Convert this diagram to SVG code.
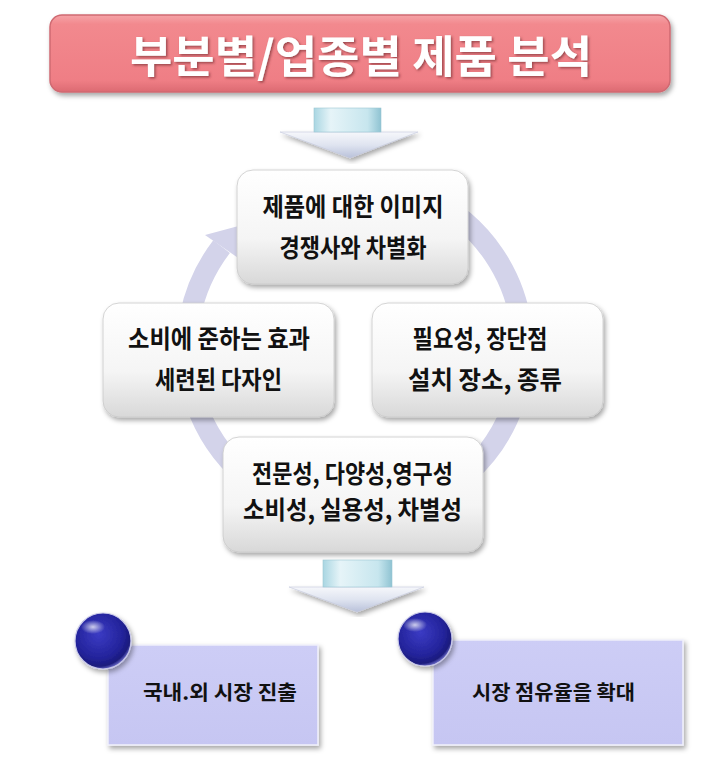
<svg xmlns="http://www.w3.org/2000/svg" width="718" height="779" viewBox="0 0 718 779">
<defs>
  <linearGradient id="gTitle" x1="0" y1="0" x2="0" y2="1">
    <stop offset="0" stop-color="#f5a3a7"/>
    <stop offset="0.12" stop-color="#f2898e"/>
    <stop offset="0.85" stop-color="#ef7e85"/>
    <stop offset="1" stop-color="#dc6a72"/>
  </linearGradient>
  <linearGradient id="gBox" x1="0" y1="0" x2="0" y2="1">
    <stop offset="0" stop-color="#ffffff"/>
    <stop offset="0.6" stop-color="#f5f5f5"/>
    <stop offset="1" stop-color="#d8d8d8"/>
  </linearGradient>
  <linearGradient id="gStem" x1="0" y1="0" x2="1" y2="0">
    <stop offset="0" stop-color="#a9d6e2"/>
    <stop offset="0.25" stop-color="#e6f4f8"/>
    <stop offset="0.8" stop-color="#c7e6ee"/>
    <stop offset="1" stop-color="#8fc3d2"/>
  </linearGradient>
  <linearGradient id="gHead" x1="0" y1="0" x2="0" y2="1">
    <stop offset="0" stop-color="#f6f7fb"/>
    <stop offset="0.5" stop-color="#dfe4f0"/>
    <stop offset="1" stop-color="#b9c1da"/>
  </linearGradient>
  <linearGradient id="gRes" x1="0" y1="0" x2="0" y2="1">
    <stop offset="0" stop-color="#cdcdf6"/>
    <stop offset="1" stop-color="#c6c6f2"/>
  </linearGradient>
  <radialGradient id="gBall" cx="0.42" cy="0.38" r="0.62">
    <stop offset="0" stop-color="#3b3bc4"/>
    <stop offset="0.7" stop-color="#23239a"/>
    <stop offset="0.92" stop-color="#1a1a7c"/>
    <stop offset="1" stop-color="#5a5ab8"/>
  </radialGradient>
  <radialGradient id="gGloss" cx="0.5" cy="0.5" r="0.5">
    <stop offset="0" stop-color="#ffffff" stop-opacity="0.75"/>
    <stop offset="1" stop-color="#ffffff" stop-opacity="0"/>
  </radialGradient>
  <filter id="shadow" x="-10%" y="-10%" width="125%" height="130%">
    <feDropShadow dx="2" dy="3" stdDeviation="2.5" flood-color="#000" flood-opacity="0.35"/>
  </filter>
  <filter id="tshadow" x="-5%" y="-20%" width="110%" height="140%">
    <feDropShadow dx="1.5" dy="1.5" stdDeviation="1" flood-color="#7a2f35" flood-opacity="0.7"/>
  </filter>
</defs>
<style>
  .box { fill: url(#gBox); stroke: #c9c9c9; stroke-width: 0.8; filter: url(#shadow); }
  .txt { font-family: "Noto Sans CJK KR", "Noto Sans", sans-serif; font-weight: bold; fill: #111; text-anchor: middle; font-size: 25px; }
  .rtxt { font-family: "Noto Sans CJK KR", "Noto Sans", sans-serif; font-weight: bold; fill: #111; text-anchor: middle; font-size: 20px; }
  .res { fill: url(#gRes); stroke: #f0f0fa; stroke-width: 1.5; filter: url(#shadow); }
  .stem { fill: url(#gStem); stroke: #9cc6d2; stroke-width: 0.6; }
  .head { fill: url(#gHead); stroke: #c2c8dc; stroke-width: 0.6; filter: url(#shadow); }
  .ring { fill: none; stroke: #d3d3ea; stroke-width: 21; }
</style>

<g id="title">
  <rect x="50" y="15" width="620" height="77" rx="12" fill="url(#gTitle)" stroke="#cf6a72" stroke-width="1.5" filter="url(#shadow)"/>
  <text x="361" y="73" font-family="'Noto Sans CJK KR', sans-serif" font-weight="bold" font-size="44" fill="#ffffff" text-anchor="middle" textLength="462" lengthAdjust="spacingAndGlyphs" filter="url(#tshadow)">부분별/업종별 제품 분석</text>
</g>

<g id="arrow1">
  <polygon class="head" points="280,132 418,132 350,158"/>
  <rect class="stem" x="314" y="108" width="67" height="24"/>
</g>

<g id="connectors">
  <path class="ring" d="M 269 204.5 A 168 168 0 1 1 221.6 246.6"/>
  <polygon fill="#d3d3ea" points="205,235 244,262 246,224"/>
</g>

<g id="node-top">
  <rect class="box" x="237" y="170" width="231" height="114" rx="16"/>
  <text class="txt" x="353" y="216" textLength="181" lengthAdjust="spacingAndGlyphs">제품에 대한 이미지</text>
  <text class="txt" x="353" y="257" textLength="147" lengthAdjust="spacingAndGlyphs">경쟁사와 차별화</text>
</g>

<g id="node-left">
  <rect class="box" x="103" y="303" width="231" height="114" rx="16"/>
  <text class="txt" x="219" y="348" textLength="182" lengthAdjust="spacingAndGlyphs">소비에 준하는 효과</text>
  <text class="txt" x="218.5" y="389" textLength="127" lengthAdjust="spacingAndGlyphs">세련된 다자인</text>
</g>

<g id="node-right">
  <rect class="box" x="372" y="303" width="231" height="114" rx="16"/>
  <text class="txt" x="480" y="348" textLength="135" lengthAdjust="spacingAndGlyphs">필요성, 장단점</text>
  <text class="txt" x="485" y="389" textLength="154" lengthAdjust="spacingAndGlyphs">설치 장소, 종류</text>
</g>

<g id="node-bottom">
  <rect class="box" x="223" y="437" width="260" height="115" rx="16"/>
  <text class="txt" x="352.5" y="483" textLength="201" lengthAdjust="spacingAndGlyphs">전문성, 다양성,영구성</text>
  <text class="txt" x="352.5" y="519" textLength="219" lengthAdjust="spacingAndGlyphs">소비성, 실용성, 차별성</text>
</g>

<g id="arrow2">
  <polygon class="head" points="289,587 424,587 357,612"/>
  <rect class="stem" x="323" y="560" width="69" height="27"/>
</g>

<g id="result-left">
  <rect class="res" x="108" y="645" width="210" height="100"/>
  <circle cx="103" cy="641" r="28" fill="url(#gBall)" stroke="#c8c8e8" stroke-width="1.2" filter="url(#shadow)"/>
  <ellipse cx="93" cy="627" rx="12" ry="7" fill="url(#gGloss)"/>
  <text class="rtxt" x="220" y="700" textLength="154" lengthAdjust="spacingAndGlyphs">국내.외 시장 진출</text>
</g>

<g id="result-right">
  <rect class="res" x="433" y="640" width="250" height="105"/>
  <circle cx="425" cy="639" r="27" fill="url(#gBall)" stroke="#c8c8e8" stroke-width="1.2" filter="url(#shadow)"/>
  <ellipse cx="415" cy="625" rx="12" ry="7" fill="url(#gGloss)"/>
  <text class="rtxt" x="553.5" y="700" textLength="163" lengthAdjust="spacingAndGlyphs">시장 점유율을 확대</text>
</g>
</svg>
